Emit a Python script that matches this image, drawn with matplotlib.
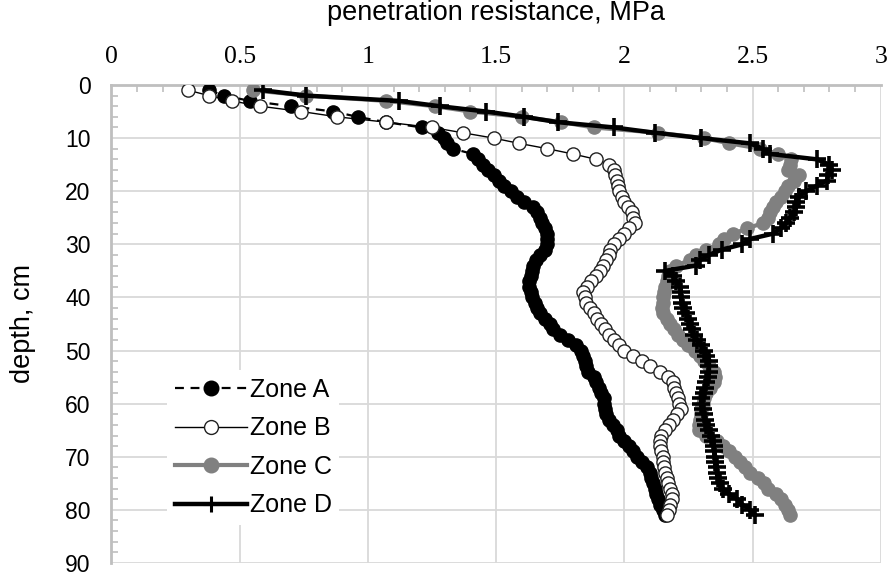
import numpy as np
import matplotlib
matplotlib.use("Agg")
import matplotlib.pyplot as plt
from matplotlib.ticker import MultipleLocator

# depth of each reading, cm
depth = np.arange(1, 82)

zone_a = [0.38, 0.44, 0.54, 0.70, 0.865, 0.96, 1.07, 1.21, 1.275, 1.295,
          1.31, 1.33, 1.41, 1.43, 1.45, 1.47, 1.49, 1.51, 1.53, 1.56,
          1.58, 1.61, 1.645, 1.66, 1.67, 1.68, 1.69, 1.70, 1.70, 1.70,
          1.69, 1.67, 1.655, 1.645, 1.64, 1.635, 1.63, 1.63, 1.635, 1.64,
          1.65, 1.66, 1.67, 1.69, 1.71, 1.72, 1.75, 1.78, 1.81, 1.83,
          1.84, 1.845, 1.85, 1.86, 1.88, 1.89, 1.90, 1.91, 1.92, 1.92,
          1.925, 1.93, 1.94, 1.955, 1.97, 1.98, 2.00, 2.02, 2.035, 2.05,
          2.07, 2.09, 2.10, 2.105, 2.11, 2.12, 2.125, 2.13, 2.14, 2.15,
          2.16]

zone_b = [0.30, 0.38, 0.47, 0.58, 0.74, 0.88, 1.07, 1.25, 1.37, 1.49,
          1.59, 1.70, 1.80, 1.89, 1.94, 1.96, 1.965, 1.97, 1.975, 1.98,
          1.99, 2.00, 2.015, 2.03, 2.035, 2.04, 2.02, 2.00, 1.98, 1.96,
          1.945, 1.94, 1.93, 1.915, 1.905, 1.89, 1.87, 1.855, 1.84, 1.845,
          1.85, 1.865, 1.88, 1.895, 1.91, 1.925, 1.94, 1.96, 1.98, 2.00,
          2.035, 2.07, 2.10, 2.14, 2.17, 2.19, 2.195, 2.20, 2.21, 2.215,
          2.22, 2.205, 2.19, 2.175, 2.16, 2.145, 2.14, 2.14, 2.145, 2.15,
          2.15, 2.155, 2.16, 2.165, 2.17, 2.18, 2.185, 2.185, 2.18, 2.175,
          2.165]

zone_c = [0.55, 0.76, 1.07, 1.26, 1.40, 1.60, 1.755, 1.88, 2.13, 2.31,
          2.41, 2.53, 2.60, 2.65, 2.646, 2.64, 2.68, 2.66, 2.64, 2.625,
          2.61, 2.59, 2.58, 2.57, 2.56, 2.54, 2.48, 2.425, 2.39, 2.37,
          2.32, 2.28, 2.256, 2.20, 2.18, 2.17, 2.165, 2.16, 2.155, 2.15,
          2.15, 2.146, 2.15, 2.165, 2.18, 2.195, 2.21, 2.23, 2.25, 2.275,
          2.295, 2.31, 2.33, 2.35, 2.355, 2.35, 2.335, 2.32, 2.31, 2.305,
          2.30, 2.30, 2.295, 2.29, 2.29, 2.32, 2.36, 2.385, 2.41, 2.43,
          2.45, 2.47, 2.49, 2.52, 2.545, 2.56, 2.59, 2.61, 2.625, 2.64,
          2.646]

zone_d = [0.59, 0.76, 1.12, 1.28, 1.46, 1.61, 1.74, 1.96, 2.12, 2.30,
          2.49, 2.54, 2.57, 2.75, 2.80, 2.81, 2.795, 2.79, 2.75, 2.71,
          2.68, 2.67, 2.67, 2.66, 2.646, 2.63, 2.61, 2.58, 2.49, 2.46,
          2.38, 2.33, 2.295, 2.28, 2.16, 2.19, 2.20, 2.217, 2.22, 2.22,
          2.225, 2.23, 2.24, 2.25, 2.256, 2.265, 2.27, 2.285, 2.30, 2.31,
          2.32, 2.33, 2.33, 2.33, 2.325, 2.32, 2.315, 2.31, 2.30, 2.30,
          2.305, 2.31, 2.315, 2.32, 2.33, 2.34, 2.345, 2.35, 2.35, 2.355,
          2.355, 2.36, 2.36, 2.365, 2.375, 2.385, 2.41, 2.44, 2.46, 2.49,
          2.51]

SANS = ["Liberation Sans", "DejaVu Sans"]
SERIF = ["Liberation Serif", "DejaVu Serif"]

fig = plt.figure(figsize=(8.89, 5.78), dpi=100)
ax = fig.add_axes([0.1254, 0.026, 0.8653, 0.827])

ax.plot(zone_a, depth, color="black", lw=1.6, ls=(0, (4, 3)), marker="o",
        ms=9.5, mfc="black", mec="black", label="Zone A", zorder=3)
ax.plot(zone_b, depth, color="black", lw=1.0, marker="o", ms=9.5,
        mfc="white", mec="#222222", mew=1.0, label="Zone B", zorder=4)
ax.plot(zone_c, depth, color="#808080", lw=3.0, marker="o", ms=9.5,
        mfc="#808080", mec="#808080", label="Zone C", zorder=5)
ax.plot(zone_d, depth, color="black", lw=3.2, marker="+", ms=13,
        mew=2.6, label="Zone D", zorder=6)

ax.set_xlim(0, 3)
ax.set_ylim(90, 0)
ax.xaxis.tick_top()
ax.xaxis.set_label_position("top")
ax.xaxis.set_minor_locator(MultipleLocator(0.1))
ax.yaxis.set_major_locator(MultipleLocator(10))
ax.yaxis.set_minor_locator(MultipleLocator(2))
ax.set_xticks([0, 0.5, 1, 1.5, 2, 2.5, 3])
ax.set_xticklabels(["0", "0.5", "1", "1.5", "2", "2.5", "3"],
                   family=SERIF, fontsize=18.5)
for t in ax.get_yticklabels():
    t.set_family(SANS)
    t.set_fontsize(16.5)

ax.tick_params(axis="x", which="major", length=0, pad=12)
ax.tick_params(axis="y", which="major", length=0, pad=15)
ax.tick_params(which="minor", direction="in", length=5, width=1.2,
               color="#bfbfbf")
ax.grid(True, which="major", color="#d9d9d9", lw=1.3, zorder=0)
ax.set_axisbelow(True)
for side in ("right", "bottom"):
    ax.spines[side].set_visible(False)
for side in ("left", "top"):
    ax.spines[side].set_color("#bfbfbf")
    ax.spines[side].set_linewidth(2)

ax.set_xlabel("penetration resistance, MPa", family=SANS, fontsize=19.5,
              labelpad=19)
ax.set_ylabel("depth, cm", family=SANS, fontsize=19.5, labelpad=21)

leg = ax.legend(loc="upper left", bbox_to_anchor=(0.056, 0.429),
                frameon=True, facecolor="white", edgecolor="none",
                fancybox=False, framealpha=1.0,
                handlelength=2.9, handletextpad=0.1, labelspacing=0.58,
                borderpad=0.3, prop={"family": SANS, "size": 18})
leg.set_zorder(10)
for h, size in zip(leg.legend_handles, [10.5, 10, 10.5, 11]):
    h.set_markersize(size)
leg.legend_handles[3].set_markeredgewidth(2.2)

fig.savefig("out.png", dpi=100)
